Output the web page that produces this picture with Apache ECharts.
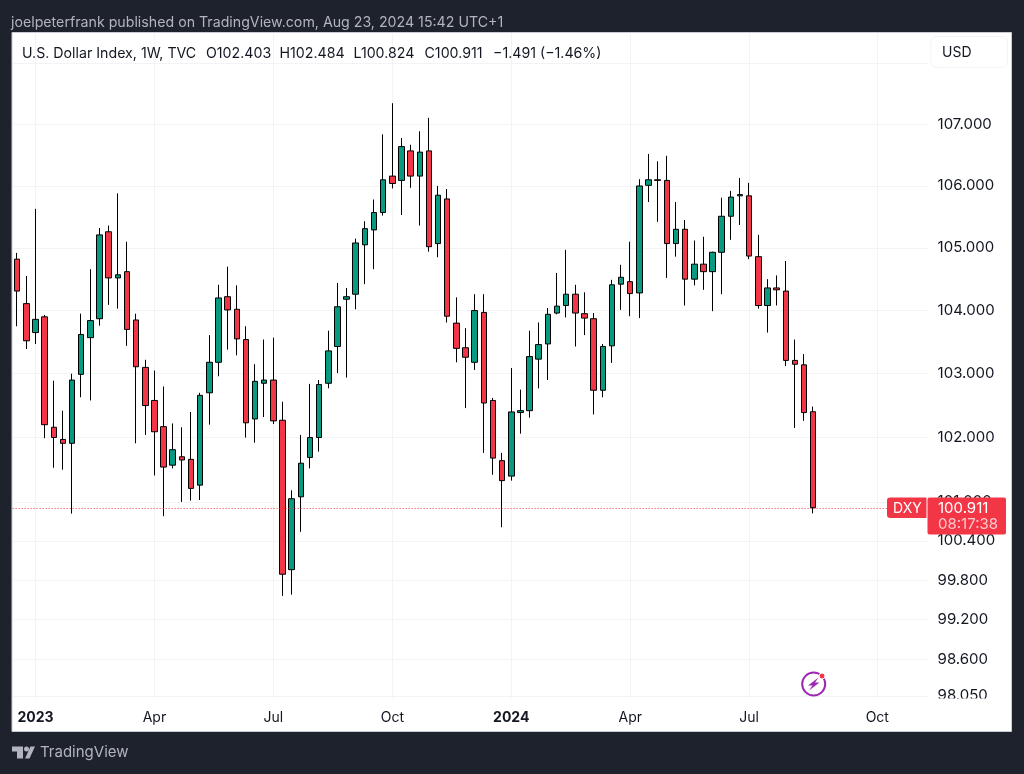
<!DOCTYPE html>
<html>
<head>
<meta charset="utf-8">
<style>html,body{margin:0;padding:0;background:#1E222D;}#c{width:1024px;height:774px;}</style>
<script src="https://cdn.jsdelivr.net/npm/echarts@6/dist/echarts.min.js"></script>
</head>
<body>
<div id="c"></div>
<script>
const weeks = ['2022-12-19','2022-12-26','2023-01-02','2023-01-09','2023-01-16','2023-01-23','2023-01-30','2023-02-06','2023-02-13','2023-02-20',
'2023-02-27','2023-03-06','2023-03-13','2023-03-20','2023-03-27','2023-04-03','2023-04-10','2023-04-17','2023-04-24','2023-05-01',
'2023-05-08','2023-05-15','2023-05-22','2023-05-29','2023-06-05','2023-06-12','2023-06-19','2023-06-26','2023-07-03','2023-07-10',
'2023-07-17','2023-07-24','2023-07-31','2023-08-07','2023-08-14','2023-08-21','2023-08-28','2023-09-04','2023-09-11','2023-09-18',
'2023-09-25','2023-10-02','2023-10-09','2023-10-16','2023-10-23','2023-10-30','2023-11-06','2023-11-13','2023-11-20','2023-11-27',
'2023-12-04','2023-12-11','2023-12-18','2023-12-25','2024-01-01','2024-01-08','2024-01-15','2024-01-22','2024-01-29','2024-02-05',
'2024-02-12','2024-02-19','2024-02-26','2024-03-04','2024-03-11','2024-03-18','2024-03-25','2024-04-01','2024-04-08','2024-04-15',
'2024-04-22','2024-04-29','2024-05-06','2024-05-13','2024-05-20','2024-05-27','2024-06-03','2024-06-10','2024-06-17','2024-06-24',
'2024-07-01','2024-07-08','2024-07-15','2024-07-22','2024-07-29','2024-08-05','2024-08-12','2024-08-19','2024-08-26','2024-09-02',
'2024-09-09','2024-09-16','2024-09-23','2024-09-30','2024-10-07','2024-10-14','2024-10-21','2024-10-28','2024-11-04','2024-11-11'];
const opens = [104.82,104.11,103.65,103.90,102.16,101.97,101.91,102.99,103.57,103.87,
105.26,104.52,104.62,103.85,103.10,102.58,102.17,101.57,101.70,101.66,
101.26,102.70,103.18,104.22,104.02,103.54,102.29,102.85,102.90,102.27,
99.96,101.08,101.69,102.00,102.85,103.43,104.18,104.26,105.05,105.29,
105.57,106.16,106.09,106.57,106.16,106.57,105.07,105.79,103.80,103.41,
103.18,103.97,102.58,101.64,101.40,102.39,102.42,103.23,103.47,103.96,
104.08,104.26,103.95,103.87,102.74,103.44,104.42,104.46,104.28,106.01,
106.10,106.09,105.07,105.30,104.50,104.74,104.62,104.93,105.51,105.84,
105.84,104.86,104.08,104.36,104.31,103.21,103.14,102.403];
const closes = [104.31,103.52,103.86,102.20,102.00,101.91,102.90,103.62,103.84,105.21,
104.52,104.57,103.70,103.11,102.50,102.09,101.54,101.81,101.65,101.21,
102.66,103.18,104.20,104.01,103.55,102.23,102.88,102.90,102.26,99.89,
101.05,101.60,102.00,102.83,103.36,104.06,104.22,105.08,105.31,105.57,
106.10,106.04,106.64,106.16,106.55,105.02,105.85,103.91,103.40,103.26,
104.00,102.54,101.68,101.33,102.40,102.42,103.27,103.46,103.94,104.07,
104.26,103.96,103.88,102.74,103.43,104.41,104.53,104.27,106.00,106.10,
106.09,105.07,105.30,104.50,104.74,104.62,104.93,105.51,105.82,105.86,
104.87,104.08,104.36,104.33,103.21,103.15,102.39,100.911];
const lows = [103.75,103.39,103.47,101.99,101.53,101.50,100.82,102.63,102.58,103.76,
104.09,104.03,103.44,101.91,102.04,101.41,100.78,101.52,101.00,101.02,
101.03,102.20,102.96,103.38,103.29,102.00,101.92,102.32,102.21,99.56,
99.58,100.54,101.52,101.78,102.77,103.01,102.94,104.02,104.42,104.66,
105.52,105.96,105.53,105.97,105.36,104.94,104.85,103.81,103.18,102.46,
103.06,101.76,101.42,100.61,101.33,102.06,102.31,102.77,102.90,103.94,
103.89,103.43,103.61,102.36,102.63,103.17,104.01,103.91,103.88,105.74,
105.42,104.52,104.86,104.08,104.40,104.33,103.99,104.26,105.13,105.37,
104.82,104.03,103.65,104.08,103.12,102.15,102.26,100.824];
const highs = [104.92,104.55,105.63,103.93,102.89,102.42,103.00,103.95,104.66,105.32,
105.36,105.88,105.10,103.95,103.22,103.05,102.80,102.22,102.16,102.40,
102.70,103.61,104.41,104.70,104.40,103.75,103.15,103.54,103.57,102.56,
101.18,102.04,102.84,102.90,103.68,104.44,104.36,105.15,105.43,105.78,
106.84,107.35,106.78,106.67,106.89,107.11,106.00,105.95,104.21,103.72,
104.26,104.26,102.62,101.76,103.09,102.75,103.68,103.81,104.04,104.60,
104.97,104.41,104.29,103.96,103.47,104.49,104.73,105.10,106.11,106.52,
106.40,106.49,105.74,105.45,105.12,105.18,104.94,105.81,105.92,106.13,
106.05,105.21,104.50,104.56,104.79,103.54,103.31,102.484];
const priceTicks = [108,107,106,105,104,103,102,101,100.4,99.8,99.2,98.6,98.05];
const timeTicks = {'2023-01-02':'{b|2023}','2023-04-03':'Apr','2023-07-03':'Jul','2023-10-02':'Oct','2024-01-01':'{b|2024}','2024-04-01':'Apr','2024-07-01':'Jul','2024-10-07':'Oct'};
const lastPrice = 100.911;
const publishedText = 'joelpeterfrank published on TradingView.com, Aug 23, 2024 15:42 UTC+1';
const legendParts = ['U.S. Dollar Index, 1W, TVC','O102.403','H102.484','L100.824','C100.911','\u22121.491 (\u22121.46%)'];
const legendX = [22, 206, 279.5, 353.5, 424.5, 493];
const FONT = 'Inter, "Noto Sans", sans-serif';
const TEXT = '#131722', RED = '#F23645', GREEN = '#089981', GRID = '#F2F3F5', MUTED = '#B2B5BE', PURPLE = '#9C27B0';

const showTick = (i, v) => (v in timeTicks);
const candles = opens.map((o, i) => [o, closes[i], lows[i], highs[i]]);
const chart = echarts.init(document.getElementById('c'), null, {renderer: 'canvas'});
chart.setOption({
  animation: false,
  backgroundColor: '#1E222D',
  textStyle: {fontFamily: FONT},
  grid: {left: 12.6, top: 33.5, width: 915, height: 665, containLabel: false},
  xAxis: {
    type: 'category', data: weeks, boundaryGap: true,
    axisLine: {show: false},
    axisTick: {show: false, alignWithLabel: true, interval: showTick},
    axisLabel: {interval: showTick, margin: 12.5, color: TEXT, fontSize: 14, fontFamily: FONT,
      formatter: v => timeTicks[v] || '',
      rich: {b: {fontWeight: 'bold', fontSize: 14, color: TEXT, fontFamily: FONT}}},
    splitLine: {show: true, interval: showTick, alignWithLabel: true, lineStyle: {color: GRID, width: 1}}
  },
  yAxis: {
    type: 'log', logBase: 10, position: 'right', min: 98.01, max: 108.5,
    axisLine: {show: false},
    axisTick: {show: false, customValues: priceTicks},
    axisLabel: {customValues: priceTicks, margin: 10, color: TEXT, fontSize: 15, fontFamily: FONT, align: 'left', padding: [4, 0, 0, 0],
      formatter: v => Number(v).toFixed(3)},
    splitLine: {show: true, lineStyle: {color: GRID, width: 1}},
    minorSplitLine: {show: false}
  },
  series: [{
    type: 'candlestick', data: candles, barWidth: 6,
    itemStyle: {color: GREEN, color0: RED, borderColor: '#000', borderColor0: '#000', borderWidth: 1},
    markLine: {silent: true, symbol: 'none', animation: false, z: 10, label: {show: false},
      data: [{yAxis: lastPrice, lineStyle: {type: [1, 2], color: RED, width: 1, opacity: 1}}]}
  }],
  graphic: [
    {type: 'rect', z: -10, silent: true, shape: {x: 12, y: 32.5, width: 999.5, height: 699}, style: {fill: '#fff', stroke: '#C9CCD4', lineWidth: 1}},
    {type: 'text', z: 100, silent: true, style: {x: 11, y: 22.5, text: publishedText, fill: MUTED, font: '14.2px ' + FONT, verticalAlign: 'middle'}},
    ...legendParts.map((t, i) => ({type: 'text', z: 100, silent: true, style: {x: legendX[i], y: 53.5, text: t, fill: TEXT, font: '14.2px ' + FONT, verticalAlign: 'middle'}})),
    {type: 'rect', z: 100, silent: true, shape: {x: 931, y: 36.5, width: 76.5, height: 31, r: 6}, style: {fill: '#fff', stroke: '#F0F3FA', lineWidth: 1}},
    {type: 'text', z: 101, silent: true, style: {x: 942, y: 52.5, text: 'USD', fill: TEXT, font: '14px ' + FONT, verticalAlign: 'middle'}},
    {type: 'rect', z: 100, silent: true, shape: {x: 929, y: 698.5, width: 80, height: 30}, style: {fill: '#fff'}},
    {type: 'rect', z: 100, silent: true, shape: {x: 887, y: 497.5, width: 39.5, height: 20.5, r: [3, 0, 0, 3]}, style: {fill: RED}},
    {type: 'text', z: 101, silent: true, style: {x: 893, y: 508.5, text: 'DXY', fill: '#fff', font: '14px ' + FONT, verticalAlign: 'middle'}},
    {type: 'rect', z: 100, silent: true, shape: {x: 927.5, y: 497.5, width: 78.5, height: 37, r: 2}, style: {fill: RED}},
    {type: 'text', z: 101, silent: true, style: {x: 938, y: 508.5, text: lastPrice.toFixed(3), fill: '#fff', font: '15px ' + FONT, verticalAlign: 'middle'}},
    {type: 'text', z: 101, silent: true, style: {x: 938, y: 524.5, text: '08:17:38', fill: '#FBC9CE', font: '15px ' + FONT, verticalAlign: 'middle'}},
    {type: 'circle', z: 100, silent: true, shape: {cx: 813.7, cy: 684, r: 11.5}, style: {fill: 'none', stroke: PURPLE, lineWidth: 2}},
    {type: 'polygon', z: 101, silent: true, shape: {points: [[818.5,677.5],[808,685.5],[812.5,685.5],[809,690.5],[819.5,682.5],[815,682.5]]}, style: {fill: PURPLE}},
    {type: 'circle', z: 102, silent: true, shape: {cx: 822, cy: 676, r: 3}, style: {fill: RED, stroke: '#fff', lineWidth: 1}},
    {type: 'polygon', z: 100, silent: true, shape: {points: [[12,746.5],[23,746.5],[23,758.5],[17,758.5],[17,751.5],[12,751.5]]}, style: {fill: MUTED}},
    {type: 'polygon', z: 100, silent: true, shape: {points: [[30.5,746.5],[35,746.5],[29.5,758.5],[25,758.5]]}, style: {fill: MUTED}},
    {type: 'circle', z: 100, silent: true, shape: {cx: 26.5, cy: 749, r: 2.5}, style: {fill: MUTED}},
    {type: 'text', z: 100, silent: true, style: {x: 40, y: 752.5, text: 'TradingView', fill: MUTED, font: '15px ' + FONT, verticalAlign: 'middle'}}
  ]
});
</script>
</body>
</html>
